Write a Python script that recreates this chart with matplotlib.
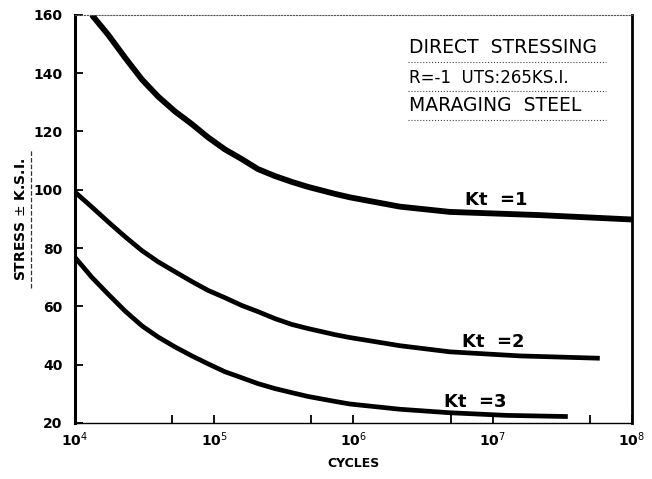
import numpy as np
import matplotlib
matplotlib.use('Agg')
import matplotlib.pyplot as plt
from matplotlib.ticker import FixedLocator, NullFormatter

# S-N curves (cycles, stress in ksi)
kt1_cycles = [1.32e4, 1.73e4, 2.29e4, 3.03e4, 3.95e4, 5.22e4, 6.92e4, 9.02e4, 1.19e5, 1.58e5,
              2.06e5, 2.73e5, 3.61e5, 4.71e5, 7.36e5, 9.44e5, 2.16e6, 4.93e6, 2.18e7, 1.0e8]
kt1_stress = [160, 153.2, 145.3, 137.8, 132, 126.9, 122.5, 118, 113.9, 110.5,
              107.1, 104.7, 102.7, 101, 98.6, 97.4, 94.2, 92.4, 91.3, 89.8]

kt2_cycles = [1.0e4, 1.32e4, 1.73e4, 2.29e4, 3.03e4, 3.95e4, 5.22e4, 6.92e4, 9.02e4, 1.19e5,
              1.58e5, 2.06e5, 2.73e5, 3.61e5, 4.71e5, 7.36e5, 9.44e5, 2.16e6, 4.93e6, 1.57e7, 5.89e7]
kt2_stress = [99.2, 94.1, 89.0, 83.9, 79.1, 75.3, 71.9, 68.5, 65.5, 63.0,
              60.3, 58.2, 55.8, 53.8, 52.4, 50.3, 49.3, 46.5, 44.4, 43.0, 42.2]

kt3_cycles = [1.0e4, 1.32e4, 1.73e4, 2.29e4, 3.03e4, 3.95e4, 5.22e4, 6.92e4, 9.02e4, 1.19e5,
              1.58e5, 2.06e5, 2.73e5, 3.61e5, 4.71e5, 7.36e5, 9.44e5, 2.16e6, 4.93e6, 1.26e7, 3.47e7]
kt3_stress = [76.8, 70.0, 64.2, 58.4, 53.3, 49.5, 46.1, 43.0, 40.3, 37.6,
              35.5, 33.5, 31.8, 30.4, 29.1, 27.4, 26.5, 24.7, 23.5, 22.6, 22.2]

y_ticks = [20, 40, 60, 80, 100, 120, 140, 160]
x_decades = [1e4, 1e5, 1e6, 1e7, 1e8]
x_labels = ['10$^4$', '10$^5$', '10$^6$', '10$^7$', '10$^8$']
x_minor = [5e4, 5e5, 5e6, 5e7]

curve_labels = ['Kt  =1', 'Kt  =2', 'Kt  =3']
label_cycles = [6.3e6, 6.0e6, 4.5e6]
label_stress = [94.6, 45.9, 25.5]

info_lines = ['DIRECT  STRESSING', 'R=-1  UTS:265KS.I.', 'MARAGING  STEEL']

fig = plt.figure(figsize=(6.52, 4.79), dpi=100)
ax = fig.add_axes([0.115, 0.117, 0.854, 0.852])

ax.plot(kt1_cycles, kt1_stress, color='black', lw=4.2, solid_capstyle='butt', solid_joinstyle='round')
ax.plot(kt2_cycles, kt2_stress, color='black', lw=3.4, solid_capstyle='butt', solid_joinstyle='round')
ax.plot(kt3_cycles, kt3_stress, color='black', lw=3.4, solid_capstyle='butt', solid_joinstyle='round')

ax.set_xscale('log')
ax.set_xlim(1e4, 1e8)
ax.set_ylim(20, 160)

ax.xaxis.set_major_locator(FixedLocator(x_decades))
ax.xaxis.set_minor_locator(FixedLocator(x_minor))
ax.xaxis.set_minor_formatter(NullFormatter())
ax.set_xticklabels(x_labels)
ax.set_yticks(y_ticks)

ax.tick_params(axis='both', which='both', direction='in', length=6, width=1.3, labelsize=10)
ax.tick_params(axis='y', pad=9)
ax.tick_params(axis='x', which='major', pad=5)
for lab in ax.get_xticklabels() + ax.get_yticklabels():
    lab.set_fontweight('bold')

ax.spines['left'].set_linewidth(2.2)
ax.spines['right'].set_linewidth(2.0)
ax.spines['bottom'].set_linewidth(1.0)
ax.spines['top'].set_linewidth(0.8)
ax.spines['top'].set_linestyle(':')
ax.spines['top'].set_color('#555555')

ax.set_xlabel('CYCLES', fontsize=9, fontweight='bold', labelpad=6)
ax.set_ylabel('STRESS $\\pm$ K.S.I.', fontsize=10, fontweight='bold', labelpad=4)
# underline of the axis title
ax.plot([-0.079, -0.079], [0.33, 0.67], transform=ax.transAxes, clip_on=False,
        color='#333333', lw=0.9, ls='--')

# labels for the curves
for txt, cx, cy in zip(curve_labels, label_cycles, label_stress):
    ax.text(cx, cy, txt, fontsize=13, fontweight='bold', ha='left', va='baseline')

# descriptive block in top-right corner
info_y = [0.919, 0.846, 0.777]
info_size = [13.5, 12, 13.5]
rule_y = [0.885, 0.814, 0.743]
for line, yy, fs, ry in zip(info_lines, info_y, info_size, rule_y):
    ax.text(0.600, yy, line, transform=ax.transAxes, fontsize=fs,
            ha='left', va='center')
    ax.plot([0.598, 0.953], [ry, ry], transform=ax.transAxes,
            color='#444444', lw=0.8, ls=':')

fig.savefig('out.png', dpi=100)
